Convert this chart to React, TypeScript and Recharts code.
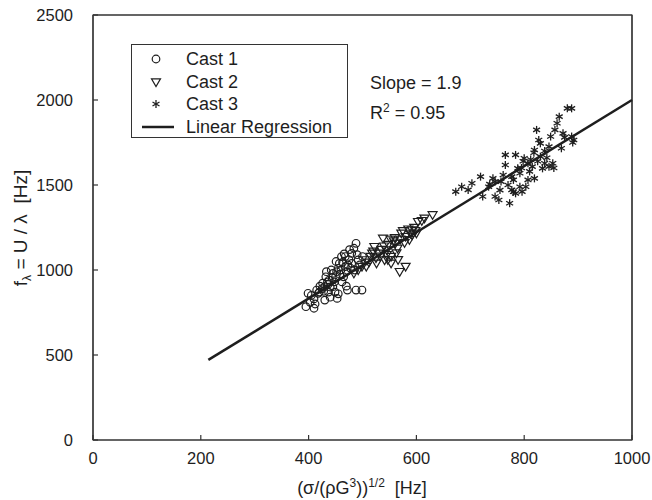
import React from "react";
import {
  ScatterChart,
  Scatter,
  XAxis,
  YAxis,
  Legend,
  ReferenceArea,
} from "recharts";

// readings taken off the figure: [x (Hz), f (Hz)]
const cast1: number[][] = [
  [395, 784], [410, 775], [399, 863], [405, 850], [415, 882], [420, 870],
  [430, 902], [430, 823], [440, 840], [453, 833], [455, 860], [445, 902],
  [418, 863], [426, 922], [435, 930], [438, 941], [445, 980], [450, 960],
  [457, 1039], [461, 1079], [460, 1000], [465, 960], [468, 1020], [470, 990],
  [472, 882], [480, 1039], [484, 1128], [488, 1157], [488, 882], [492, 1059],
  [499, 882], [500, 1079], [480, 1098], [468, 1079], [475, 1060], [455, 1010],
  [448, 930], [440, 900], [425, 890], [410, 830], [432, 960], [462, 930],
  [470, 905], [485, 1000], [495, 1030], [478, 1010], [452, 990], [442, 1000],
  [436, 915], [444, 955], [458, 975], [463, 1045], [473, 1030], [449, 870],
  [428, 875], [412, 800], [437, 870], [466, 1095], [476, 1120], [490, 1090],
  [451, 1050], [433, 990], [421, 905], [403, 810],
];

const cast2: number[][] = [
  [569, 990], [580, 1020], [553, 1039], [630, 1324], [615, 1304], [603, 1284],
  [592, 1235], [572, 1216], [538, 1186], [522, 1137], [515, 1079], [507, 1059],
  [499, 1020], [530, 1098], [545, 1118], [561, 1157], [580, 1196], [592, 1206],
  [600, 1216], [484, 980], [492, 1000], [553, 1079], [541, 1059], [526, 1039],
  [565, 1128], [587, 1177], [518, 1098], [507, 1020], [560, 1190], [575, 1230],
  [548, 1150], [535, 1120], [585, 1240], [596, 1250], [610, 1290], [566, 1060],
  [525, 1070], [545, 1090], [558, 1170], [570, 1180], [552, 1180], [540, 1140],
  [512, 1045], [533, 1080], [578, 1160], [589, 1215], [598, 1230], [563, 1100],
  [547, 1060], [520, 1110],
];

const cast3: number[][] = [
  [673, 1461], [684, 1490], [696, 1471], [703, 1510], [719, 1549], [723, 1432],
  [734, 1490], [742, 1539], [746, 1432], [753, 1412], [757, 1520], [765, 1618],
  [765, 1677], [773, 1393], [777, 1471], [780, 1530], [784, 1677], [792, 1569],
  [796, 1461], [803, 1490], [807, 1628], [815, 1608], [819, 1706], [823, 1824],
  [827, 1765], [830, 1667], [834, 1598], [838, 1628], [846, 1608], [849, 1785],
  [857, 1824], [861, 1863], [865, 1902], [869, 1716], [872, 1804], [880, 1951],
  [888, 1951], [892, 1765], [888, 1785], [800, 1657], [788, 1598], [777, 1549],
  [761, 1559], [746, 1520], [807, 1530], [792, 1490], [784, 1451], [846, 1726],
  [830, 1745], [853, 1628], [819, 1539], [812, 1650], [838, 1700], [875, 1780],
  [770, 1500], [795, 1600], [798, 1640], [810, 1580], [825, 1640], [842, 1660],
  [855, 1600], [780, 1460], [755, 1470], [736, 1505], [818, 1690], [890, 1750],
];

const regression: number[][] = [
  [214, 471],
  [1000, 2000],
];

const xTicks = [0, 200, 400, 600, 800, 1000];
const yTicks = [0, 500, 1000, 1500, 2000, 2500];

const toRows = (arr: number[][]) => arr.map(([x, y]) => ({ x, y }));

const ink = "#1e1e1e";
const font = "'Liberation Sans', Arial, Helvetica, sans-serif";

const CircleMark = (p: any) => (
  <circle cx={p.cx} cy={p.cy} r={3.8} fill="none" stroke={ink} strokeWidth={1.2} />
);

const TriMark = (p: any) => (
  <polygon
    points={`${p.cx - 4.5},${p.cy - 3.2} ${p.cx + 4.5},${p.cy - 3.2} ${p.cx},${p.cy + 4.5}`}
    fill="none"
    stroke={ink}
    strokeWidth={1.2}
  />
);

const StarMark = (p: any) => {
  const r = 4;
  const dx = r * 0.87;
  const dy = r * 0.5;
  return (
    <g stroke={ink} strokeWidth={1.3}>
      <line x1={p.cx} y1={p.cy - r} x2={p.cx} y2={p.cy + r} />
      <line x1={p.cx - dx} y1={p.cy - dy} x2={p.cx + dx} y2={p.cy + dy} />
      <line x1={p.cx - dx} y1={p.cy + dy} x2={p.cx + dx} y2={p.cy - dy} />
    </g>
  );
};

const NoMark = () => <g />;

const LegendBox = () => {
  const rows = [
    { label: "Cast 1", mark: <CircleMark cx={10} cy={8} /> },
    { label: "Cast 2", mark: <TriMark cx={10} cy={8} /> },
    { label: "Cast 3", mark: <StarMark cx={10} cy={8} /> },
    {
      label: "Linear Regression",
      mark: <line x1={0} y1={8} x2={32} y2={8} stroke={ink} strokeWidth={2.5} />,
    },
  ];
  return (
    <div
      style={{
        width: 217,
        height: 94,
        boxSizing: "border-box",
        border: "1px solid #333",
        background: "#fff",
        paddingTop: 3,
        fontFamily: font,
        fontSize: 18,
        color: ink,
      }}
    >
      {rows.map((r, i) => (
        <div key={i} style={{ display: "flex", alignItems: "center", height: 22.5 }}>
          <svg width={32} height={16} style={{ marginLeft: i === 3 ? 10 : 14 }}>
            {r.mark}
          </svg>
          <span style={{ marginLeft: i === 3 ? 12 : 8, lineHeight: "20px" }}>{r.label}</span>
        </div>
      ))}
    </div>
  );
};

const tickStyle = { fontSize: 16.5, fill: ink, fontFamily: font };

export default function App() {
  return (
    <div style={{ position: "absolute", left: 0, top: 0, width: 652, height: 500, background: "#fff" }}>
      <ScatterChart width={652} height={500} margin={{ top: 14, right: 19, bottom: 0, left: 0 }}>
        <XAxis
          xAxisId="b"
          type="number"
          dataKey="x"
          domain={[0, 1000]}
          ticks={xTicks}
          height={60}
          tickSize={-5}
          tickMargin={17}
          tick={tickStyle}
          stroke="#333"
          strokeWidth={1.2}
        />
        <XAxis
          xAxisId="t"
          orientation="top"
          type="number"
          dataKey="x"
          domain={[0, 1000]}
          ticks={xTicks}
          height={1}
          tickSize={-5}
          tick={false}
          stroke="#333"
          strokeWidth={1.2}
        />
        <YAxis
          yAxisId="l"
          type="number"
          dataKey="y"
          domain={[0, 2500]}
          ticks={yTicks}
          width={93}
          tickSize={-5}
          tickMargin={25}
          tick={tickStyle}
          stroke="#333"
          strokeWidth={1.2}
        />
        <YAxis
          yAxisId="r"
          orientation="right"
          type="number"
          dataKey="y"
          domain={[0, 2500]}
          ticks={yTicks}
          width={1}
          tickSize={-5}
          tick={false}
          stroke="#333"
          strokeWidth={1.2}
        />
        <ReferenceArea
          xAxisId="b"
          yAxisId="l"
          x1={0}
          x2={1000}
          y1={0}
          y2={2500}
          fill="none"
          stroke="#333"
          strokeWidth={1.2}
          ifOverflow="visible"
        />
        <Legend
          layout="vertical"
          align="center"
          verticalAlign="middle"
          content={<LegendBox />}
          wrapperStyle={{ left: 131, top: 44, width: 217, height: 94 }}
        />
        {/* keeps the mirrored top/right axes alive; draws nothing */}
        <Scatter
          xAxisId="t"
          yAxisId="r"
          data={toRows(regression)}
          shape={NoMark}
          legendType="none"
          isAnimationActive={false}
        />
        <Scatter
          xAxisId="b"
          yAxisId="l"
          name="Linear Regression"
          data={toRows(regression)}
          line={{ stroke: ink, strokeWidth: 2.5 }}
          shape={NoMark}
          isAnimationActive={false}
        />
        <Scatter xAxisId="b" yAxisId="l" name="Cast 1" data={toRows(cast1)} shape={CircleMark} isAnimationActive={false} />
        <Scatter xAxisId="b" yAxisId="l" name="Cast 2" data={toRows(cast2)} shape={TriMark} isAnimationActive={false} />
        <Scatter xAxisId="b" yAxisId="l" name="Cast 3" data={toRows(cast3)} shape={StarMark} isAnimationActive={false} />
      </ScatterChart>

      <div style={{ position: "absolute", left: 370, top: 73, fontFamily: font, fontSize: 18, color: ink }}>
        Slope = 1.9
      </div>
      <div style={{ position: "absolute", left: 370, top: 101, fontFamily: font, fontSize: 18, color: ink }}>
        R<sup style={{ fontSize: 12 }}>2</sup> = 0.95
      </div>

      <div
        style={{
          position: "absolute",
          left: 0,
          width: 724,
          top: 476,
          textAlign: "center",
          fontFamily: font,
          fontSize: 18,
          color: ink,
          whiteSpace: "nowrap",
        }}
      >
        (σ/(ρG<sup style={{ fontSize: 12 }}>3</sup>))<sup style={{ fontSize: 12 }}>1/2</sup>&nbsp; [Hz]
      </div>
      <div
        style={{
          position: "absolute",
          left: 22,
          top: 228,
          transform: "translate(-50%, -50%) rotate(-90deg)",
          fontFamily: font,
          fontSize: 19,
          color: ink,
          whiteSpace: "nowrap",
        }}
      >
        f<sub style={{ fontSize: 12 }}>λ</sub> = U / λ&nbsp; [Hz]
      </div>
    </div>
  );
}
